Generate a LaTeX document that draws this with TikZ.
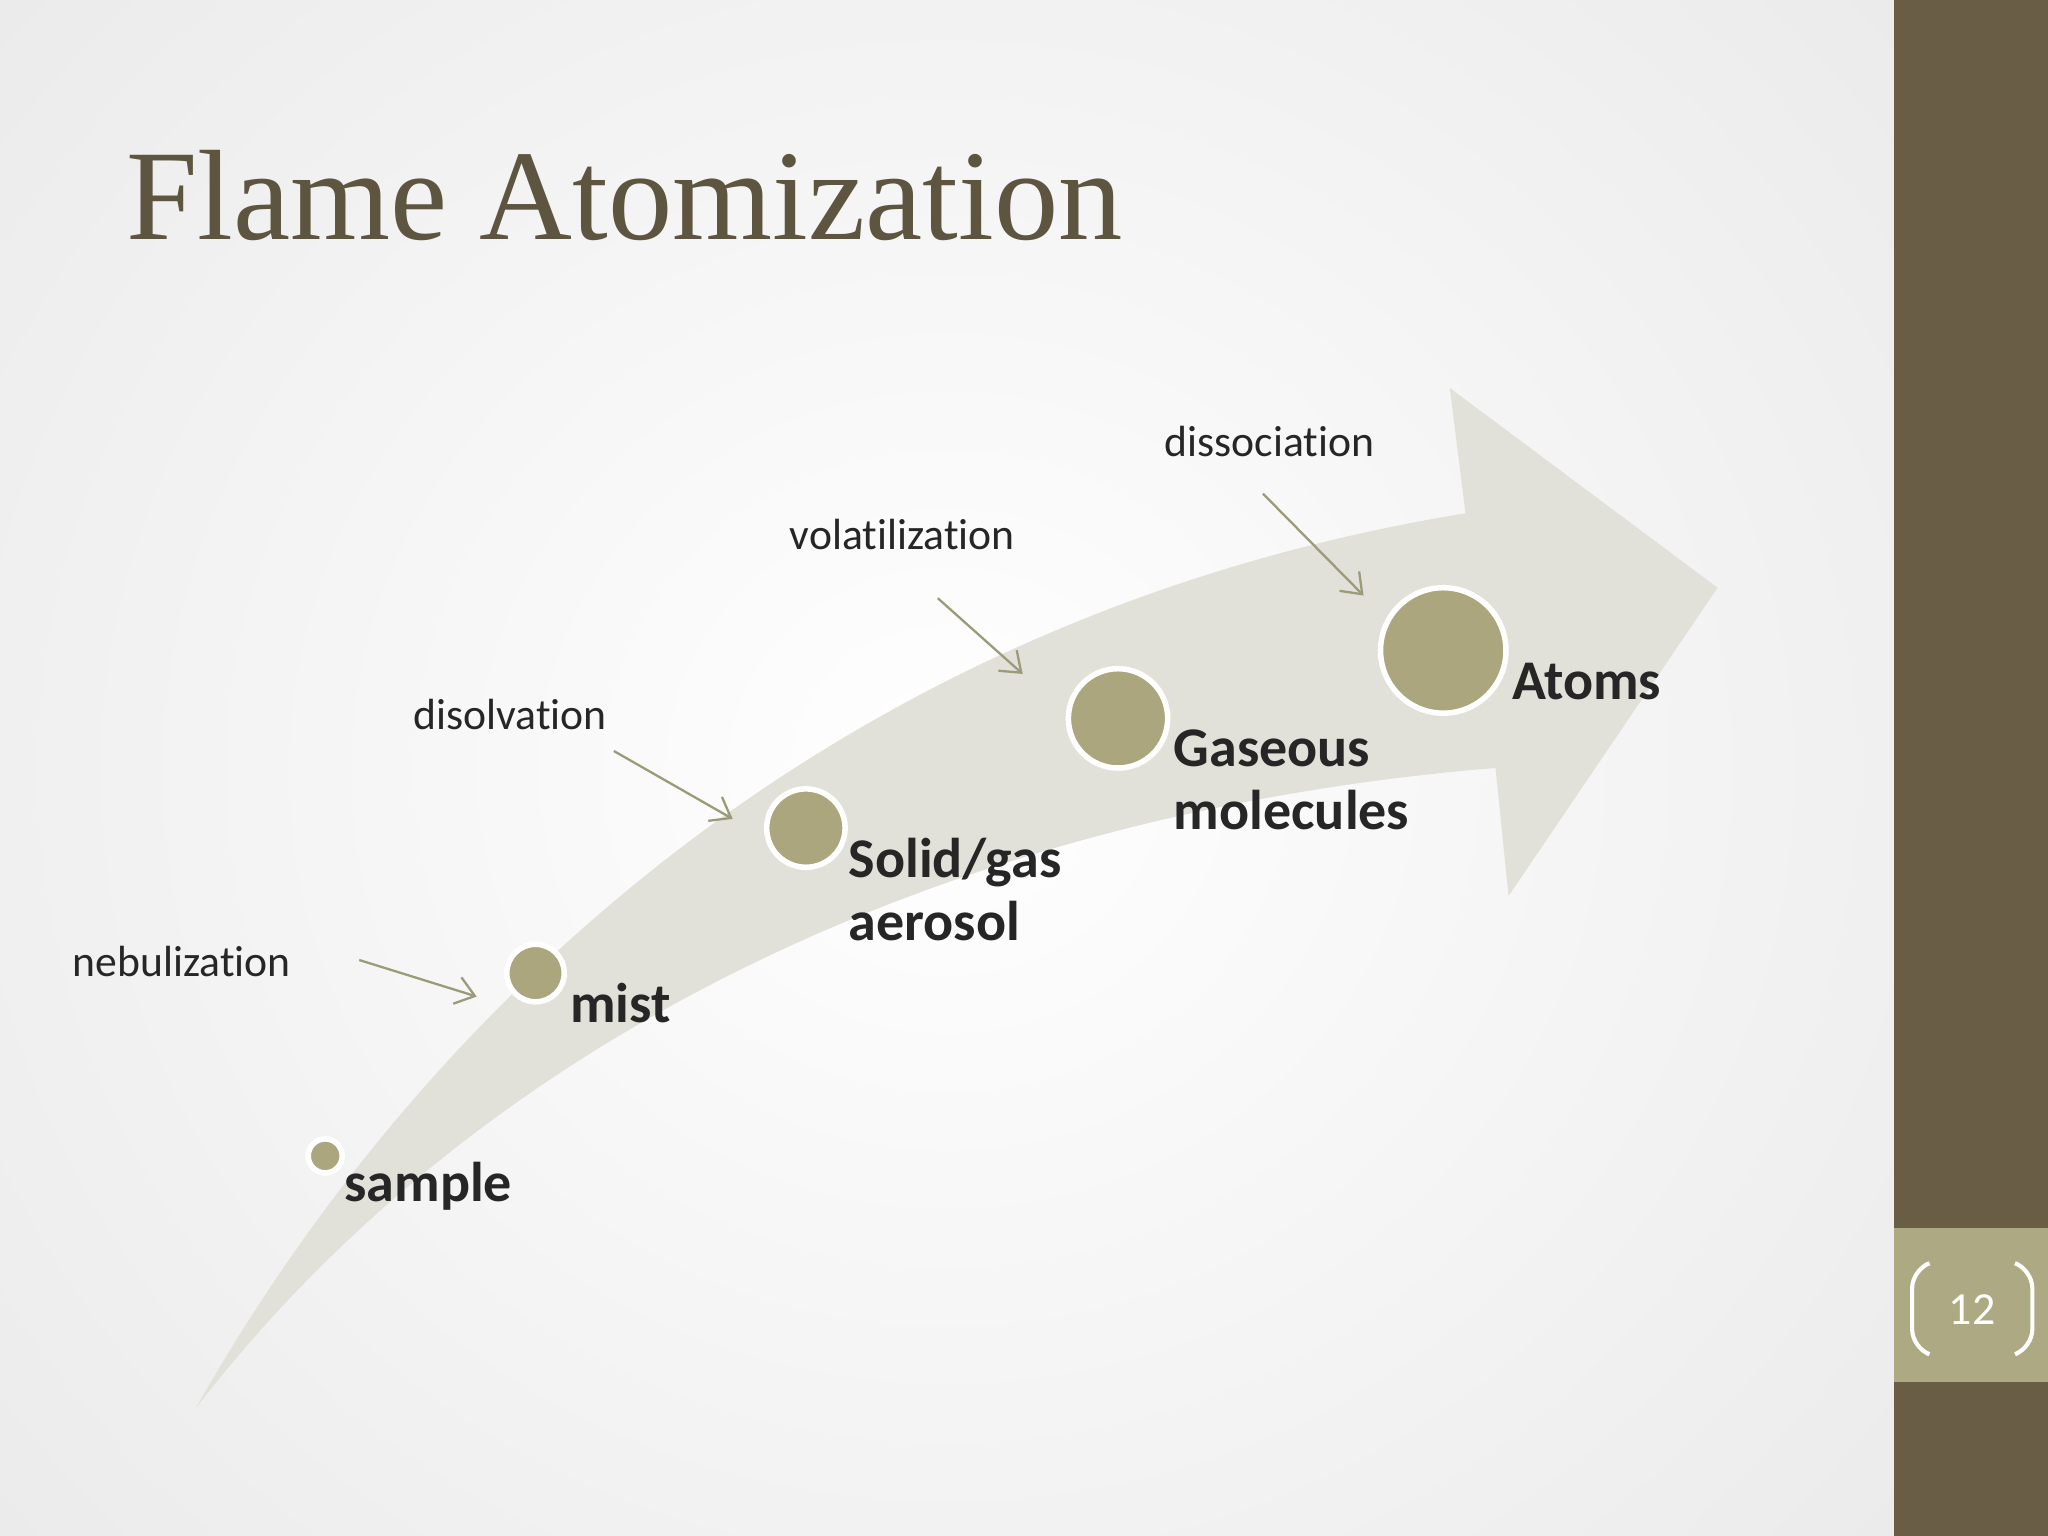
\documentclass[tikz,border=0pt]{standalone}
\usepackage{fontspec}
\setmainfont{Carlito}[Ligatures={NoCommon}]
\newfontfamily\titlefont{Liberation Serif}
\definecolor{sidebrown}{HTML}{695D46}
\definecolor{pagebox}{HTML}{ADA982}
\definecolor{dotfill}{HTML}{ABA67E}
\definecolor{arrowfill}{HTML}{E2E1D9}
\definecolor{titlecol}{HTML}{5E5541}
\definecolor{smallarrow}{HTML}{9C9B78}
\definecolor{labeltext}{HTML}{262626}
\usetikzlibrary{arrows.meta}
\tikzset{
  dot/.style={circle,fill=dotfill,draw=white,line width=1.2pt,inner sep=0pt},
  steplabel/.style={anchor=west,align=left,text=labeltext,font=\bfseries\fontsize{12.2}{13.6}\selectfont,inner sep=0pt},
  proclabel/.style={anchor=west,text=labeltext,font=\fontsize{9.5}{11}\selectfont,inner sep=0pt},
  procarrow/.style={draw=smallarrow,line width=0.5pt,-{Straight Barb[length=4pt,width=6pt]}}
}
\begin{document}
\begin{tikzpicture}[x=0.01cm,y=-0.01cm]
\useasboundingbox (0,0) rectangle (1568,1176);
\shade[inner color=white,outer color=black!10] (-500,-550) rectangle (1950,1730);
\fill[sidebrown] (1450,0) rectangle (1568,1176);
\fill[pagebox] (1450,940) rectangle (1568,1058);
% title
\node[anchor=west,text=titlecol,font=\titlefont\fontsize{28}{34}\selectfont,inner sep=0pt] (title) at (96,150) {Flame Atomization};
% big arrow
\fill[arrowfill] (150,1078) .. controls (330,760) and (650,470) .. (1122,393)
  -- (1110,297) -- (1315,450) -- (1155,686) -- (1145,588)
  .. controls (750,620) and (380,780) .. cycle;
% dots
\node[dot,minimum size=0.26cm] (d1) at (249,885) {};
\node[dot,minimum size=0.44cm] (d2) at (410,745) {};
\node[dot,minimum size=0.60cm] (d3) at (617,634) {};
\node[dot,minimum size=0.76cm] (d4) at (856,550) {};
\node[dot,minimum size=0.96cm] (d5) at (1105,498) {};
% step labels
\node[steplabel] (l1) at (263,908) {sample};
\node[steplabel] (l2) at (436,768) {mist};
\node[steplabel] (l3) at (649,681) {Solid/gas\\aerosol};
\node[steplabel] (l4) at (898,597) {Gaseous\\molecules};
\node[steplabel] (l5) at (1157,522) {Atoms};
% process labels
\node[proclabel] (p1) at (55,736) {nebulization};
\node[proclabel] (p2) at (316,547) {disolvation};
\node[proclabel] (p3) at (604,409) {volatilization};
\node[proclabel] (p4) at (891,338) {dissociation};
\coordinate (a1s) at (275,735); \coordinate (a1e) at (365,763);
\coordinate (a2s) at (470,575); \coordinate (a2e) at (561,627);
\coordinate (a3s) at (718,458); \coordinate (a3e) at (783,516);
\coordinate (a4s) at (967,378); \coordinate (a4e) at (1044,456);
\draw[procarrow] (a1s) -- (a1e);
\draw[procarrow] (a2s) -- (a2e);
\draw[procarrow] (a3s) -- (a3e);
\draw[procarrow] (a4s) -- (a4e);
% page number
\node[text=white,font=\fontsize{10}{12}\selectfont] (pg) at (1510,1003) {12};
\draw[white,line width=0.9pt,rounded corners=4pt] (1475,968) -- (1464,972) -- (1464,1032) -- (1475,1036);
\draw[white,line width=0.9pt,rounded corners=4pt] (1545,968) -- (1556,972) -- (1556,1032) -- (1545,1036);
\end{tikzpicture}
\end{document}
